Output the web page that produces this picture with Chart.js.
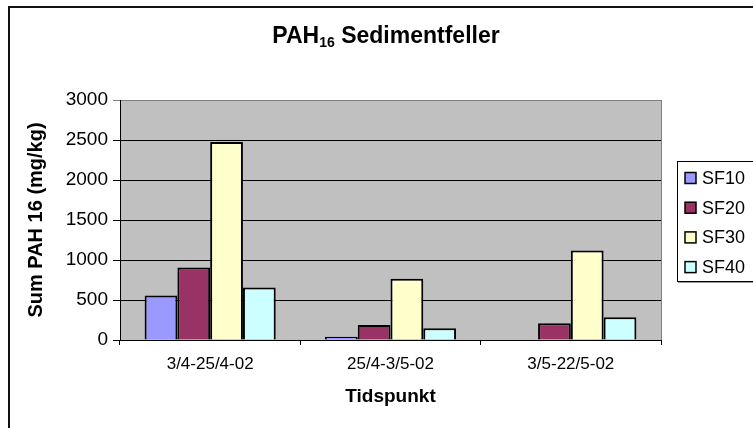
<!DOCTYPE html>
<html>
<head>
<meta charset="utf-8">
<script src="https://cdn.jsdelivr.net/npm/chart.js@4"></script>
<style>
  html, body { margin: 0; padding: 0; background: #fff; overflow: hidden; }
  canvas { display: block; }
</style>
</head>
<body>
<canvas id="chart" width="753" height="428" style="width:753px;height:428px"></canvas>
<script>
const categories = ['3/4-25/4-02', '25/4-3/5-02', '3/5-22/5-02'];
const seriesNames = ['SF10', 'SF20', 'SF30', 'SF40'];
const sf10 = [555, 42, null];
const sf20 = [905, 188, 208];
const sf30 = [2475, 765, 1120];
const sf40 = [655, 147, 285];
const seriesColors = ['#9999FF', '#993366', '#FFFFCC', '#CCFFFF'];
const yTicks = [0, 500, 1000, 1500, 2000, 2500, 3000];

const FONT = "'Liberation Sans', Arial, sans-serif";

const framePlugin = {
  id: 'frame',
  beforeDraw(chart) {
    const ctx = chart.ctx;
    const a = chart.chartArea;
    ctx.save();
    ctx.fillStyle = '#fff';
    ctx.fillRect(0, 0, chart.width, chart.height);
    // outer chart border
    ctx.strokeStyle = '#111';
    ctx.lineWidth = 2;
    ctx.strokeRect(9, 7, 800, 500);
    // plot background
    ctx.fillStyle = '#C0C0C0';
    ctx.fillRect(a.left, a.top, a.right - a.left, a.bottom - a.top);
    ctx.restore();
  },
  afterDraw(chart) {
    const ctx = chart.ctx;
    const a = chart.chartArea;
    ctx.save();
    // right border of plot area
    ctx.strokeStyle = '#808080';
    ctx.lineWidth = 1;
    ctx.beginPath();
    ctx.moveTo(a.right + 0.5, a.top);
    ctx.lineTo(a.right + 0.5, a.bottom);
    ctx.stroke();

    // title with subscript
    ctx.fillStyle = '#000';
    ctx.textBaseline = 'alphabetic';
    ctx.textAlign = 'left';
    const big = 'bold 23px ' + FONT;
    const small = 'bold 14px ' + FONT;
    ctx.font = big;
    const w1 = ctx.measureText('PAH').width;
    const w3 = ctx.measureText(' Sedimentfeller').width;
    ctx.font = small;
    const w2 = ctx.measureText('16').width;
    let x = 386 - (w1 + w2 + w3) / 2;
    const base = 43;
    ctx.font = big;
    ctx.fillText('PAH', x, base);
    x += w1;
    ctx.font = small;
    ctx.fillText('16', x, base + 4);
    x += w2;
    ctx.font = big;
    ctx.fillText(' Sedimentfeller', x, base);

    // legend
    const lx = 677, ly = 161, lh = 120;
    ctx.fillStyle = '#fff';
    ctx.fillRect(lx, ly, 100, lh);
    ctx.strokeStyle = '#000';
    ctx.lineWidth = 1;
    ctx.strokeRect(lx + 0.5, ly + 0.5, 100, lh);
    ctx.strokeStyle = '#999';
    ctx.beginPath();
    ctx.moveTo(lx + 1, ly + lh + 1.5);
    ctx.lineTo(753, ly + lh + 1.5);
    ctx.stroke();
    ctx.font = '18px ' + FONT;
    ctx.textBaseline = 'middle';
    chart.data.datasets.forEach((ds, i) => {
      const cy = 178 + i * 29.7;
      ctx.fillStyle = ds.backgroundColor;
      ctx.fillRect(685, cy - 5.5, 11, 11);
      ctx.strokeStyle = '#000';
      ctx.lineWidth = 1.5;
      ctx.strokeRect(685, cy - 5.5, 11, 11);
      ctx.fillStyle = '#000';
      ctx.fillText(ds.label, 702, cy + 1);
    });
    ctx.restore();
  }
};

const seriesData = [sf10, sf20, sf30, sf40];

new Chart(document.getElementById('chart'), {
  type: 'bar',
  data: {
    labels: categories,
    datasets: seriesNames.map((name, i) => ({
      label: name,
      data: seriesData[i],
      backgroundColor: seriesColors[i],
      borderColor: '#000',
      borderWidth: 2,
      categoryPercentage: 0.727,
      barPercentage: 1
    }))
  },
  options: {
    responsive: false,
    animation: false,
    layout: { padding: { top: 100, right: 92, left: 0, bottom: 0 } },
    plugins: {
      legend: { display: false },
      title: { display: false },
      tooltip: { enabled: false }
    },
    scales: {
      x: {
        afterFit(scale) { scale.height = 88; },
        grid: { drawOnChartArea: false, drawTicks: true, tickLength: 5, color: '#000', offset: true },
        border: { color: '#000', width: 1 },
        ticks: { color: '#000', font: { family: FONT, size: 17 }, padding: 9, maxRotation: 0 },
        title: {
          display: true, text: 'Tidspunkt', color: '#000',
          font: { family: FONT, size: 19, weight: 'bold' },
          padding: { top: 0, bottom: 20 }
        }
      },
      y: {
        min: 0,
        max: 3000,
        afterFit(scale) { scale.width = 120; },
        afterBuildTicks(scale) { scale.ticks = yTicks.map(v => ({ value: v })); },
        grid: {
          color: c => (c.tick && c.tick.value === 3000 ? '#808080' : '#000'),
          tickLength: 7,
          lineWidth: 1
        },
        border: { color: '#000', width: 1 },
        ticks: {
          color: '#000', font: { family: FONT, size: 19 }, padding: 5,
          callback: v => String(v)
        },
        title: {
          display: true, text: 'Sum PAH 16 (mg/kg)', color: '#000',
          font: { family: FONT, size: 20, weight: 'bold' },
          padding: { top: 24, bottom: 0 }
        }
      }
    }
  },
  plugins: [framePlugin]
});
</script>
</body>
</html>
